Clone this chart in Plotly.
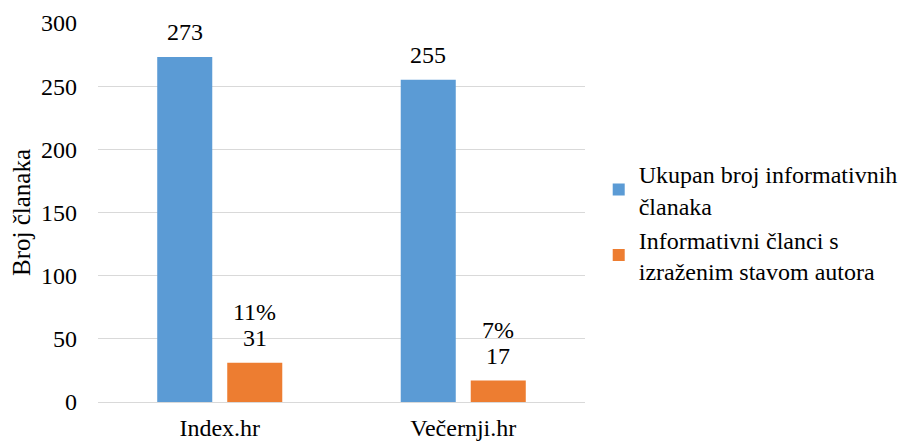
import plotly.graph_objects as go

categories = ["Index.hr", "Večernji.hr"]
total_articles = [273, 255]
opinion_articles = [31, 17]
opinion_pct = ["11%", "7%"]
series_names = ["Ukupan broj informativnih<br>članaka", "Informativni članci s<br>izraženim stavom autora"]
y_ticks = [0, 50, 100, 150, 200, 250, 300]

BLUE = "#5B9BD5"
ORANGE = "#ED7D31"
FONT = "Liberation Serif, Times New Roman, serif"
FS = 24
bargap = 0.425
bargroupgap = 0.214

fig = go.Figure()
fig.add_trace(go.Bar(x=categories, y=total_articles, name=series_names[0], legendgroup="a",
                     marker=dict(color=BLUE, line=dict(width=0))))
fig.add_trace(go.Bar(x=categories, y=opinion_articles, name=series_names[1], legendgroup="b",
                     marker=dict(color=ORANGE, line=dict(width=0))))

slot = (1 - bargap) / 2
lab_font = dict(family=FONT, size=FS, color="#000")
for i, cat in enumerate(categories):
    fig.add_annotation(x=i - slot / 2, y=total_articles[i], xref="x", yref="y",
                       text=str(total_articles[i]), showarrow=False,
                       yanchor="middle", yshift=25, font=lab_font)
    fig.add_annotation(x=i + slot / 2, y=opinion_articles[i], xref="x", yref="y",
                       text=str(opinion_articles[i]), showarrow=False,
                       yanchor="middle", yshift=25, font=lab_font)
    fig.add_annotation(x=i + slot / 2, y=opinion_articles[i], xref="x", yref="y",
                       text=opinion_pct[i], showarrow=False,
                       yanchor="middle", yshift=51, font=lab_font)

fig.update_layout(
    width=906, height=441,
    margin=dict(l=90, r=329, t=15, b=47),
    paper_bgcolor="white", plot_bgcolor="white",
    barmode="group", bargap=bargap, bargroupgap=bargroupgap,
    font=dict(family=FONT, size=FS, color="#000"),
    showlegend=True,
    legend=dict(xref="container", x=0.652, yref="paper", y=0.474,
                xanchor="left", yanchor="middle",
                font=dict(family=FONT, size=FS, color="#000"),
                tracegroupgap=0, itemwidth=30, bgcolor="rgba(0,0,0,0)"),
    xaxis=dict(showgrid=False, showline=False, ticks="", ticklabelstandoff=9,
               tickfont=dict(family=FONT, size=FS), automargin=False),
    yaxis=dict(range=[0, 300], tickvals=y_ticks, showgrid=True, gridcolor="#d9d9d9",
               gridwidth=1, zeroline=True, zerolinecolor="#d9d9d9", zerolinewidth=1,
               showline=False, ticks="", ticklen=0, ticklabelstandoff=20,
               tickfont=dict(family=FONT, size=FS), automargin=False,
               title=dict(text="Broj članaka", font=dict(family=FONT, size=25), standoff=7)),
)

fig.write_html("out.html")
